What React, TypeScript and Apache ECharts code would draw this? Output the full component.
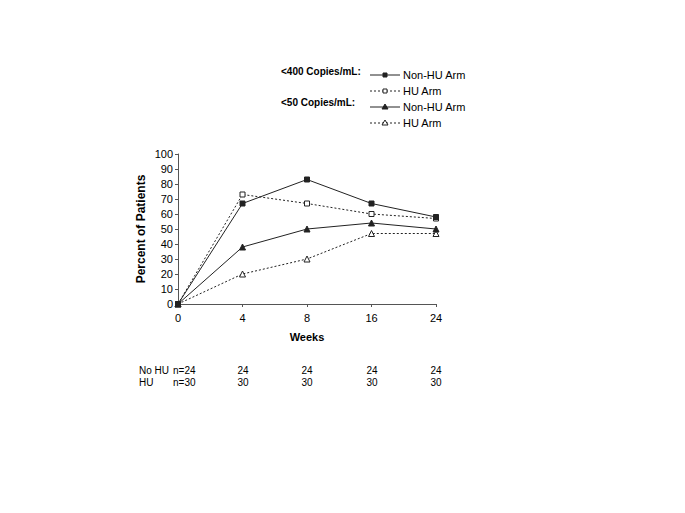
import React, { useEffect, useRef } from "react";
import * as echarts from "echarts";

const weeks = ["0", "4", "8", "16", "24"];
const non400 = [0, 67, 83, 67, 58];
const hu400 = [0, 73, 67, 60, 57];
const non50 = [0, 38, 50, 54, 50];
const hu50 = [0, 20, 30, 47, 47];
const noHuN = ["n=24", "24", "24", "24", "24"];
const huN = ["n=30", "30", "30", "30", "30"];

const C = "#222";

export default function App() {
  const ref = useRef<HTMLDivElement>(null);
  useEffect(() => {
    const chart = echarts.init(ref.current!, null, { renderer: "svg" });
    const font = "Liberation Sans, Arial, sans-serif";
    const mk = (name: string, data: number[], symbol: string, filled: boolean, dashed: boolean) => ({
      name,
      type: "line",
      data,
      symbol,
      symbolSize: symbol === "triangle" ? 6 : 5,
      showAllSymbol: true,
      lineStyle: { color: C, width: 1, type: dashed ? [2, 2] : "solid" },
      itemStyle: { color: filled ? C : "#fff", borderColor: C, borderWidth: 1 },
      z: filled ? 3 : 2,
    });
    const legendY = [75, 91, 107, 123];
    const legendG: any[] = [];
    const items = [
      { label: "Non-HU Arm", sym: "sq", filled: true, dashed: false },
      { label: "HU Arm", sym: "sq", filled: false, dashed: true },
      { label: "Non-HU Arm", sym: "tri", filled: true, dashed: false },
      { label: "HU Arm", sym: "tri", filled: false, dashed: true },
    ];
    items.forEach((it, i) => {
      const y = legendY[i];
      legendG.push({
        type: "line",
        shape: { x1: 370, y1: y, x2: 400, y2: y },
        style: { stroke: C, lineWidth: 1, lineDash: it.dashed ? [2, 2] : null },
      });
      if (it.sym === "sq") {
        legendG.push({
          type: "rect",
          shape: { x: 383, y: y - 2, width: 4, height: 4 },
          style: { fill: it.filled ? C : "#fff", stroke: C, lineWidth: 1 },
          z: 10,
        });
      } else {
        legendG.push({
          type: "polygon",
          shape: { points: [[385, y - 3], [388, y + 2], [382, y + 2]] },
          style: { fill: it.filled ? C : "#fff", stroke: C, lineWidth: 1 },
          z: 10,
        });
      }
      legendG.push({
        type: "text",
        x: 403,
        y,
        style: { text: it.label, font: `11px ${font}`, fill: "#000", verticalAlign: "middle" },
      });
    });
    legendG.push({
      type: "text", x: 281, y: 71,
      style: { text: "<400 Copies/mL:", font: `bold 10px ${font}`, fill: "#000", verticalAlign: "middle" },
    });
    legendG.push({
      type: "text", x: 281, y: 102,
      style: { text: "<50 Copies/mL:", font: `bold 10px ${font}`, fill: "#000", verticalAlign: "middle" },
    });
    const xs = [178, 243, 307, 372, 436];
    legendG.push({
      type: "text", x: 139, y: 370,
      style: { text: "No HU", font: `10px ${font}`, fill: "#000", verticalAlign: "middle" },
    });
    legendG.push({
      type: "text", x: 139, y: 382,
      style: { text: "HU", font: `10px ${font}`, fill: "#000", verticalAlign: "middle" },
    });

    chart.setOption({
      animation: false,
      textStyle: { fontFamily: font },
      grid: { left: 178, right: 249, top: 154, bottom: 209 },
      xAxis: {
        type: "category",
        data: weeks,
        boundaryGap: false,
        name: "Weeks",
        nameLocation: "middle",
        nameGap: 27,
        nameTextStyle: { fontWeight: "bold", fontSize: 11, color: "#000", fontFamily: font },
        axisLine: { lineStyle: { color: "#555" } },
        axisTick: { show: true, alignWithLabel: true, length: 3, lineStyle: { color: "#555" } },
        axisLabel: { color: "#000", fontSize: 11, margin: 8 },
      },
      yAxis: {
        type: "value",
        min: 0,
        max: 100,
        interval: 10,
        name: "Percent of Patients",
        nameLocation: "middle",
        nameGap: 31,
        nameTextStyle: { fontWeight: "bold", fontSize: 12, color: "#000", fontFamily: font },
        axisLine: { show: true, lineStyle: { color: "#555" } },
        axisTick: { show: true, length: 3, lineStyle: { color: "#555" } },
        splitLine: { show: false },
        axisLabel: { color: "#000", fontSize: 11, margin: 5 },
      },
      series: [
        mk("<400 Non-HU Arm", non400, "rect", true, false),
        mk("<400 HU Arm", hu400, "rect", false, true),
        mk("<50 Non-HU Arm", non50, "triangle", true, false),
        mk("<50 HU Arm", hu50, "triangle", false, true),
      ],
      graphic: [
        ...legendG,
        ...noHuN.map((t, i) => ({
          type: "text",
          x: i === 0 ? 173 : xs[i],
          y: 370,
          style: { text: t, font: `10px ${font}`, fill: "#000", verticalAlign: "middle", align: i === 0 ? "left" : "center" },
        })),
        ...huN.map((t, i) => ({
          type: "text",
          x: i === 0 ? 173 : xs[i],
          y: 382,
          style: { text: t, font: `10px ${font}`, fill: "#000", verticalAlign: "middle", align: i === 0 ? "left" : "center" },
        })),
      ],
    });
    return () => chart.dispose();
  }, []);
  return (
    <div
      ref={ref}
      style={{ position: "absolute", left: 0, top: 0, width: 685, height: 513, background: "#fff" }}
    />
  );
}
